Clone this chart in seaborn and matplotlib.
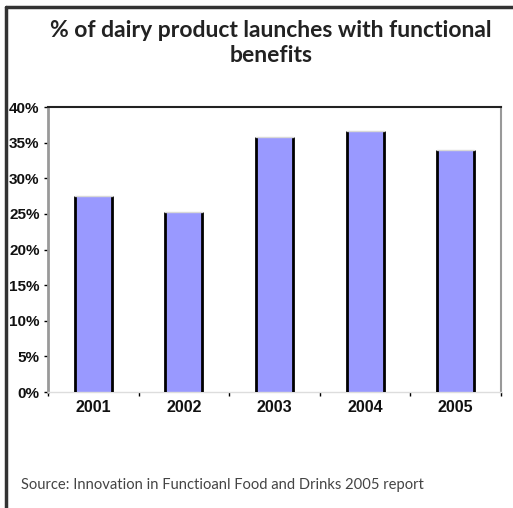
import matplotlib
matplotlib.use("Agg")
import matplotlib.pyplot as plt
import matplotlib.ticker as mticker
import seaborn as sns
import pandas as pd

anos = ["2001", "2002", "2003", "2004", "2005"]
percentuais = [27.5, 25.2, 35.8, 36.6, 33.9]
ticks_y = [0, 5, 10, 15, 20, 25, 30, 35, 40]

titulo = "% of dairy product launches with functional\nbenefits"
fonte = "Source: Innovation in Functioanl Food and Drinks 2005 report"

df = pd.DataFrame({"ano": anos, "pct": percentuais})

sns.set_theme(style="white")
plt.rcParams["font.family"] = ["Liberation Sans", "DejaVu Sans"]

fig = plt.figure(figsize=(5.13, 5.08), dpi=100)
ax = fig.add_axes([0.0936, 0.2283, 0.883, 0.561])

sns.barplot(data=df, x="ano", y="pct", color="#9999ff", saturation=1,
            width=0.41, linewidth=0, ax=ax)

# bordas laterais pretas e topo cinza claro
for p in ax.patches:
    x0, y0 = p.get_x(), p.get_y()
    x1, y1 = x0 + p.get_width(), y0 + p.get_height()
    ax.plot([x0, x0], [y0, y1], color="black", lw=2, solid_capstyle="butt", zorder=3)
    ax.plot([x1, x1], [y0, y1], color="black", lw=2, solid_capstyle="butt", zorder=3)
    ax.plot([x0, x1], [y1, y1], color="#d8d8d8", lw=1, zorder=3)

ax.set_ylim(0, 40)
ax.set_xlim(-0.5, len(anos) - 0.5)
ax.set_yticks(ticks_y)
ax.yaxis.set_major_formatter(mticker.FuncFormatter(lambda v, _: f"{v:.0f}%"))
ax.set_xlabel("")
ax.set_ylabel("")

ax.xaxis.set_minor_locator(mticker.FixedLocator([i - 0.5 for i in range(len(anos) + 1)]))
ax.tick_params(axis="x", which="major", length=0, pad=6, labelsize=11.5)
ax.tick_params(axis="x", which="minor", bottom=True, length=3, width=1, color="black", direction="out")
ax.tick_params(axis="y", left=True, length=3, width=1, color="black", direction="out",
               pad=3, labelsize=11)
for lbl in ax.get_xticklabels() + ax.get_yticklabels():
    lbl.set_fontweight("bold")
    lbl.set_color("#111111")

for lado, cor, lw in [("left", "#999999", 2), ("top", "#222222", 1.5),
                      ("right", "#999999", 1.5), ("bottom", "#dddddd", 1)]:
    ax.spines[lado].set_visible(True)
    ax.spines[lado].set_color(cor)
    ax.spines[lado].set_linewidth(lw)

fig.text(0.528, 0.915, titulo, ha="center", va="center", fontsize=16.5,
         fontweight="bold", family=["Lato", "DejaVu Sans"], color="#222222",
         linespacing=1.2)
fig.text(0.041, 0.045, fonte, ha="left", va="center", fontsize=10.6,
         family=["Lato", "DejaVu Sans"], color="#444444")

# moldura externa (topo e esquerda)
fig.add_artist(plt.Line2D([0.011, 1.0], [0.986, 0.986], color="#333333", lw=2.5,
                          transform=fig.transFigure))
fig.add_artist(plt.Line2D([0.011, 0.011], [0.0, 0.986], color="#333333", lw=2.5,
                          transform=fig.transFigure))

fig.savefig("out.png", dpi=100)
